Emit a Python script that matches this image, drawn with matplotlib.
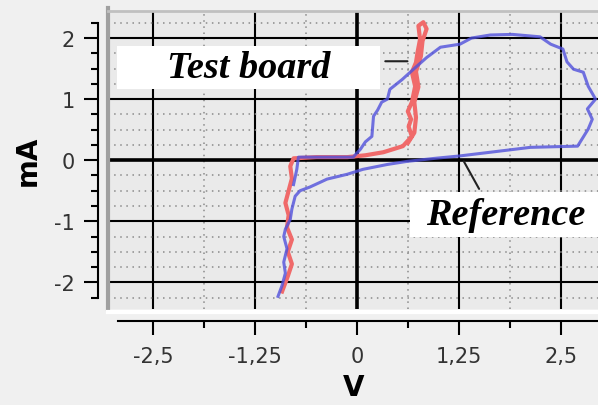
import matplotlib.pyplot as plt
from matplotlib.patches import Rectangle
from matplotlib.ticker import FixedLocator, FuncFormatter

plt.rcParams['axes.unicode_minus'] = False

# reference curve (V, mA)
ref_v = [-0.97, -0.92, -0.88, -0.90, -0.86, -0.90, -0.88, -0.82, -0.80, -0.76, -0.70,
         -0.58, -0.45, -0.37, -0.12, 0.07, 0.37, 0.61, 0.95, 1.26, 1.63, 2.12, 2.70,
         2.77, 2.83, 2.88, 2.82, 2.92, 2.83, 2.77, 2.65, 2.57, 2.52, 2.37, 2.24, 1.90,
         1.63, 1.40, 1.26, 1.02, 0.85, 0.69, 0.55, 0.40, 0.37, 0.30, 0.25, 0.20, 0.18,
         0.10, 0.04, -0.05, -0.40, -0.72, -0.74, -0.78]
ref_ma = [-2.23, -2.05, -1.85, -1.67, -1.45, -1.25, -1.13, -0.97, -0.80, -0.59, -0.50,
          -0.44, -0.36, -0.31, -0.23, -0.15, -0.07, -0.02, 0.03, 0.07, 0.13, 0.21, 0.23,
          0.38, 0.51, 0.67, 0.84, 1.00, 1.21, 1.44, 1.49, 1.61, 1.82, 1.90, 2.02, 2.06,
          2.05, 2.00, 1.90, 1.85, 1.68, 1.49, 1.32, 1.16, 1.00, 0.95, 0.82, 0.72, 0.39,
          0.30, 0.18, 0.05, 0.05, 0.05, -0.15, -0.40]

# test board curve (V, mA)
tb_v = [-0.92, -0.85, -0.80, -0.85, -0.80, -0.86, -0.84, -0.88, -0.84, -0.80, -0.82,
        -0.78, -0.50, -0.12, 0.10, 0.32, 0.56, 0.67, 0.63, 0.66, 0.62, 0.67, 0.71, 0.67,
        0.72, 0.74, 0.77, 0.75, 0.81, 0.85, 0.80, 0.78, 0.72, 0.75, 0.70, 0.72, 0.70, 0.62]
tb_ma = [-2.15, -1.90, -1.70, -1.50, -1.30, -1.10, -0.90, -0.70, -0.50, -0.30, -0.10,
         0.03, 0.05, 0.05, 0.08, 0.13, 0.23, 0.39, 0.55, 0.67, 0.80, 0.95, 1.21, 1.44,
         1.60, 1.77, 1.98, 2.20, 2.26, 2.15, 1.95, 1.70, 1.45, 1.20, 0.95, 0.70, 0.45, 0.28]

x_major = [-2.5, -1.25, 0, 1.25, 2.5]
x_minor = [-1.875, -0.625, 0.625, 1.875]
y_major = [-2, -1, 0, 1, 2]
y_minor = [-2.25, -1.75, -1.5, -1.25, -0.75, -0.5, -0.25, 0.25, 0.5, 0.75,
           1.25, 1.5, 1.75, 2.25]

fig = plt.figure(figsize=(5.98, 4.06), dpi=100, facecolor='#f0f0f0')
ax = fig.add_axes([0.181, 0.236, 0.819, 0.734], facecolor='#eaeaea')
ax.set_xlim(-3.05, 2.95)
ax.set_ylim(-2.44, 2.44)

ax.xaxis.set_major_locator(FixedLocator(x_major))
ax.xaxis.set_minor_locator(FixedLocator(x_minor))
ax.yaxis.set_major_locator(FixedLocator(y_major))
ax.yaxis.set_minor_locator(FixedLocator(y_minor))
fmt = FuncFormatter(lambda v, p: ('%g' % v).replace('.', ','))
ax.xaxis.set_major_formatter(fmt)
ax.yaxis.set_major_formatter(fmt)

ax.set_axisbelow(True)
ax.grid(which='major', color='black', lw=1.5)
ax.grid(which='minor', color='#8a8a8a', lw=1.1, ls=(0, (1, 3)))
ax.axhline(0, color='black', lw=2.6, zorder=1.5)
ax.axvline(0, color='black', lw=2.6, zorder=1.5)

ax.plot(tb_v, tb_ma, color='#f06a6a', lw=3, zorder=2)
ax.plot(ref_v, ref_ma, color='#5050dc', lw=2.2, alpha=0.8, zorder=2.5)

# spines
ax.spines['right'].set_visible(False)
ax.spines['top'].set_color('#c0c0c0')
ax.spines['top'].set_linewidth(2)
ax.spines['left'].set_position(('outward', 7.2))
ax.spines['left'].set_bounds(-2.25, 2.25)
ax.spines['left'].set_linewidth(1.5)
ax.spines['bottom'].set_position(('outward', 8.6))
ax.spines['bottom'].set_bounds(-2.93, 2.95)
ax.spines['bottom'].set_linewidth(1.5)
ax.plot([0, 0], [0, 1.01], transform=ax.transAxes, color='#a0a0a0', lw=3, clip_on=False)
ax.plot([0, 1], [-0.01, -0.01], transform=ax.transAxes, color='white', lw=3, clip_on=False)

ax.tick_params(which='major', length=10, width=1.5, labelsize=15, colors='black')
ax.tick_params(which='minor', length=5, width=1.5)
ax.tick_params(axis='y', which='major', pad=7)
ax.tick_params(axis='x', which='major', pad=8)
for t in ax.get_xticklabels() + ax.get_yticklabels():
    t.set_color('#333333')

ax.set_xlabel('V', fontsize=20, fontweight='bold', labelpad=5)
ax.set_ylabel('mA', fontsize=20, fontweight='bold', labelpad=9)

# label boxes
ax.add_patch(Rectangle((0.018, 0.738), 0.537, 0.145, transform=ax.transAxes,
                       fc='white', ec='none', zorder=4))
ax.add_patch(Rectangle((0.616, 0.242), 0.39, 0.151, transform=ax.transAxes,
                       fc='white', ec='none', zorder=4, clip_on=False))
ax.text(0.286, 0.812, 'Test board', transform=ax.transAxes, ha='center', va='center',
        family='Liberation Serif', fontsize=27.5, fontweight='bold', style='italic', zorder=5)
ax.text(0.812, 0.319, 'Reference', transform=ax.transAxes, ha='center', va='center',
        family='Liberation Serif', fontsize=27.5, fontweight='bold', style='italic', zorder=5)
ax.annotate('', xy=(0.65, 1.62), xytext=(0.31, 1.62),
            arrowprops=dict(arrowstyle='-', color='#222222', lw=1.5))
ax.annotate('', xy=(1.29, 0.02), xytext=(1.51, -0.51),
            arrowprops=dict(arrowstyle='-', color='#222222', lw=1.5))

fig.savefig('out.png', dpi=100, facecolor=fig.get_facecolor())
